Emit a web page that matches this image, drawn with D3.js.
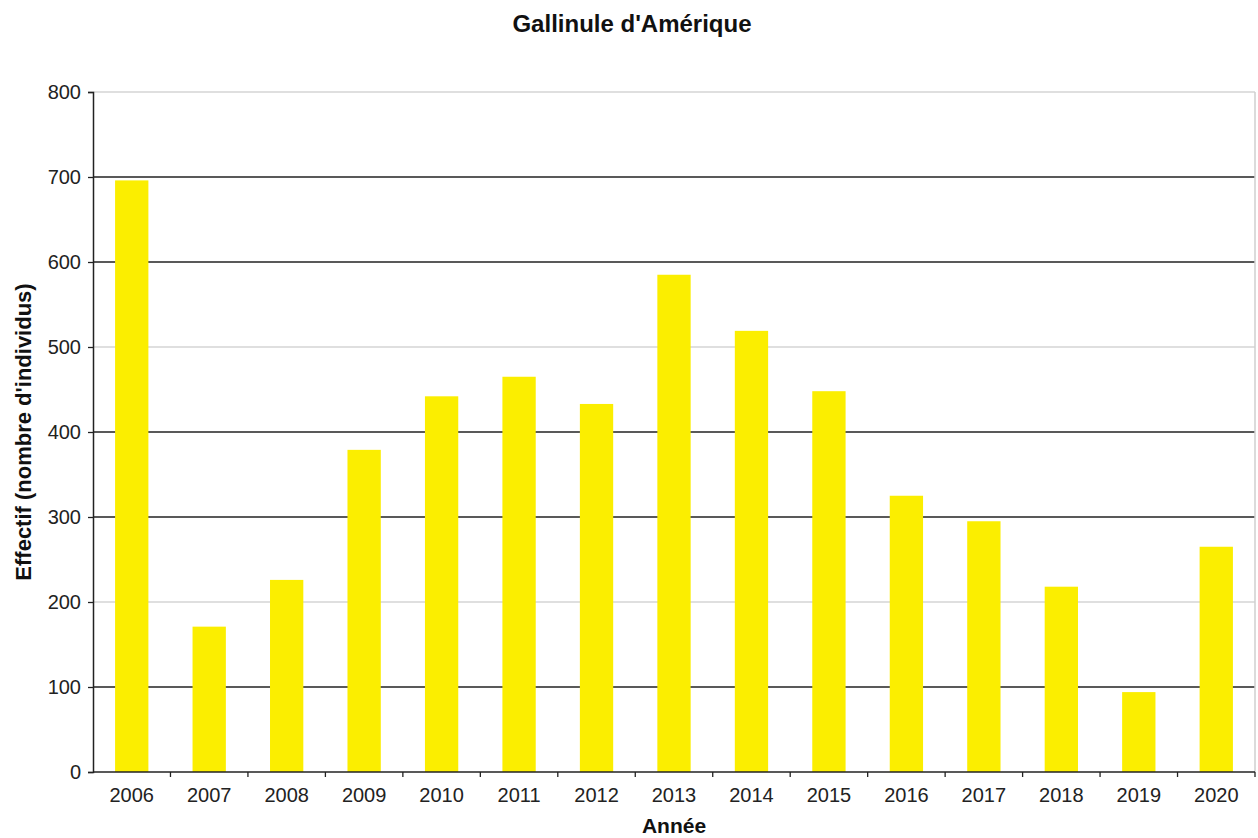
<!DOCTYPE html>
<html><head><meta charset="utf-8">
<script src="https://cdn.jsdelivr.net/npm/d3@7"></script>
<style>body{margin:0;background:#fff;}svg{display:block;font-family:"Liberation Sans",Arial,sans-serif;}</style>
</head><body>
<svg id="chart" width="1258" height="838"></svg>
<script>
const years = ["2006","2007","2008","2009","2010","2011","2012","2013","2014","2015","2016","2017","2018","2019","2020"];
const counts = [696,171,226,379,442,465,433,585,519,448,325,295,218,94,265];
const yTicks = [0,100,200,300,400,500,600,700,800];
const lightGrid = [200,500,800];

const svg = d3.select("#chart");
const m = {left:93, right:1255, top:92, bottom:772};
const x = d3.scaleBand().domain(years).range([m.left, m.right]).paddingInner(0.57).paddingOuter(0.285);
const xb = d3.scaleBand().domain(years).range([m.left, m.right]);
const y = d3.scaleLinear().domain([0,800]).range([m.bottom, m.top]);

// gridlines
svg.append("g").selectAll("line").data(yTicks.filter(d=>d>0)).join("line")
  .attr("x1", m.left).attr("x2", m.right)
  .attr("y1", d=>y(d)).attr("y2", d=>y(d))
  .attr("stroke", d=>lightGrid.includes(d)?"#d4d4d4":"#222")
  .attr("stroke-width", d=>lightGrid.includes(d)?1.5:1.3);
// right border
svg.append("line").attr("x1", m.right).attr("x2", m.right).attr("y1", m.top).attr("y2", m.bottom)
  .attr("stroke","#cfcfcf").attr("stroke-width",1.5);

// bars
svg.append("g").selectAll("rect").data(years).join("rect")
  .attr("x", d=>x(d)).attr("width", x.bandwidth())
  .attr("y", (d,i)=>y(counts[i])).attr("height", (d,i)=>y(0)-y(counts[i]))
  .attr("fill", "#fbee00");

// y axis
const yAxis = d3.axisLeft(y).tickValues(yTicks).tickSize(5).tickPadding(7).tickFormat(d3.format("d"));
const gy = svg.append("g").attr("transform", `translate(${m.left},0)`).call(yAxis);
gy.select(".domain").attr("stroke","#222").attr("stroke-width",1.5);
gy.selectAll(".tick line").attr("stroke","#222").attr("stroke-width",1.3);
gy.selectAll(".tick text").attr("font-size",20).attr("fill","#222");

// x axis
const gx = svg.append("g").attr("transform", `translate(0,${m.bottom})`);
gx.append("line").attr("x1", m.left).attr("x2", m.right).attr("y1",0).attr("y2",0).attr("stroke","#222").attr("stroke-width",1.5);
gx.selectAll("line.tk").data(years.slice(1).concat(["end"])).join("line").attr("class","tk")
  .attr("x1", d=> d==="end"? m.right : xb(d)).attr("x2", d=> d==="end"? m.right : xb(d))
  .attr("y1",0).attr("y2",5).attr("stroke","#222").attr("stroke-width",1.3);
gx.selectAll("text").data(years).join("text")
  .attr("x", d=>xb(d)+xb.bandwidth()/2).attr("y", 30)
  .attr("text-anchor","middle").attr("font-size",20).attr("fill","#222").text(d=>d);

// titles
svg.append("text").attr("x", 632).attr("y", 32).attr("text-anchor","middle")
  .attr("font-size",24).attr("font-weight","bold").attr("fill","#111").text("Gallinule d'Amérique");
svg.append("text").attr("x", 674).attr("y", 833).attr("text-anchor","middle")
  .attr("font-size",21).attr("font-weight","bold").attr("fill","#111").text("Année");
svg.append("text").attr("transform", `translate(31,432) rotate(-90)`)
  .attr("text-anchor","middle").attr("font-size",22).attr("font-weight","bold").attr("fill","#111")
  .text("Effectif (nombre d'individus)");
</script>
</body></html>
